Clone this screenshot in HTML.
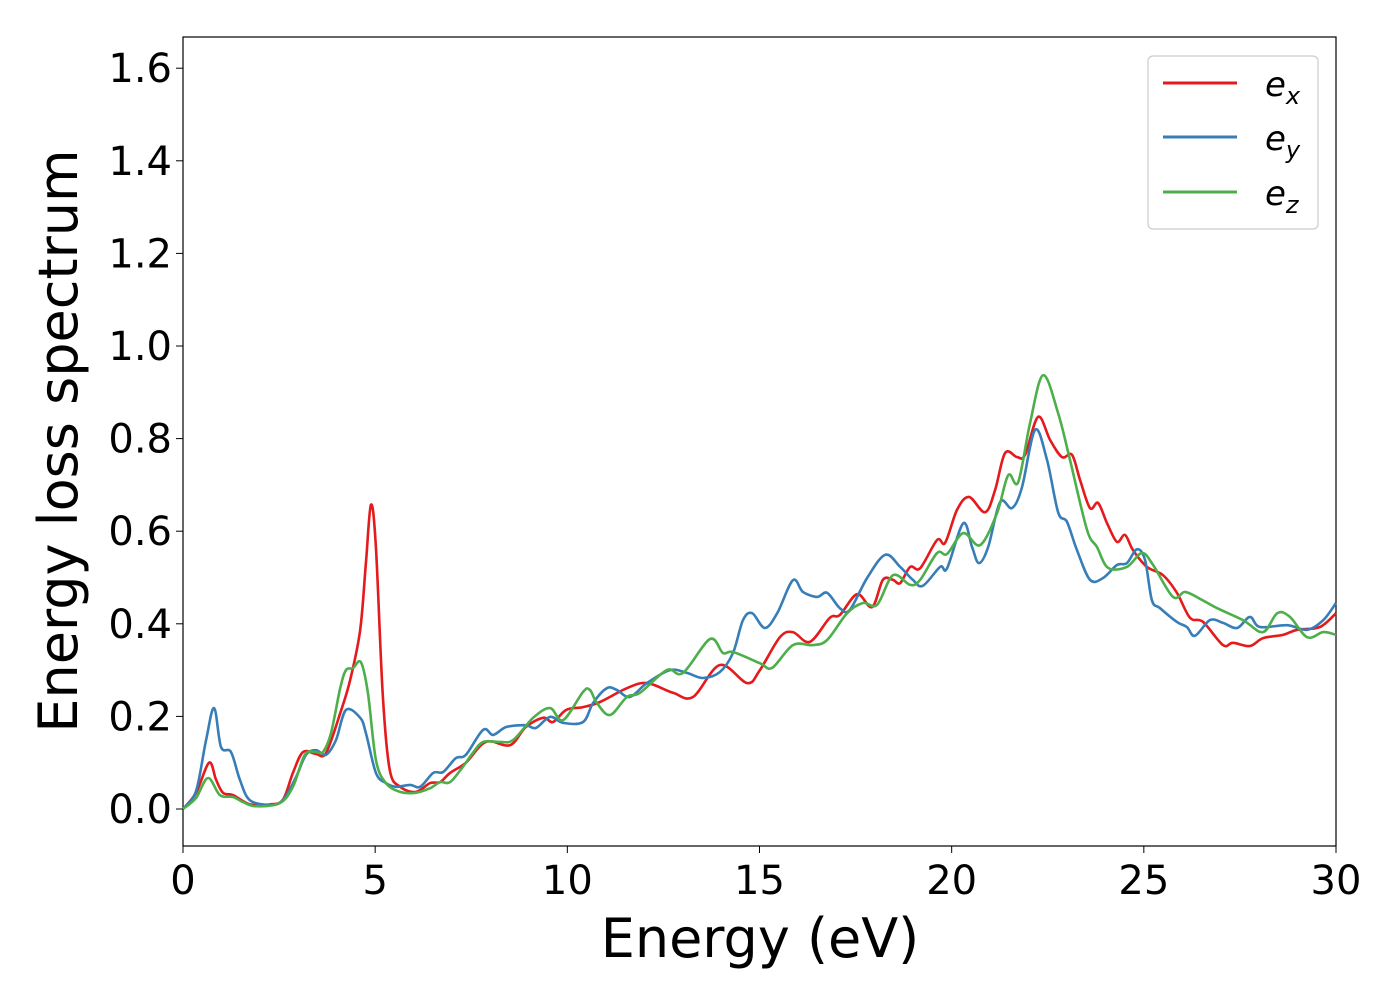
<!DOCTYPE html>
<html><head><meta charset="utf-8"><style>
body{margin:0;background:#fff;}
svg{display:block;font-family:"DejaVu Sans","Liberation Sans",sans-serif;}
</style></head><body>
<svg id="chart" width="1400" height="1000">
<rect x="183" y="37" width="1153" height="809" fill="#fff" stroke="#000" stroke-width="1.2"/>
<g id="ticks"></g>
<g id="series"></g>
<text x="760" y="957" font-size="54" text-anchor="middle">Energy (eV)</text>
<text transform="translate(77,441) rotate(-90)" font-size="54" text-anchor="middle">Energy loss spectrum</text>
<g>
<rect x="1148" y="56" width="170" height="173" rx="5" fill="#fff" stroke="#ccc" stroke-width="1.2"/>
<line x1="1163" y1="83" x2="1237" y2="83" stroke="#e41a1c" stroke-width="3"/>
<line x1="1163" y1="137" x2="1237" y2="137" stroke="#377eb8" stroke-width="3"/>
<line x1="1163" y1="192" x2="1237" y2="192" stroke="#4daf4a" stroke-width="3"/>
<text x="1265" y="96" font-size="34" font-style="italic">e<tspan font-size="24" dy="8">x</tspan></text>
<text x="1265" y="150" font-size="34" font-style="italic">e<tspan font-size="24" dy="8">y</tspan></text>
<text x="1265" y="205" font-size="34" font-style="italic">e<tspan font-size="24" dy="8">z</tspan></text>
</g>
</svg>
<script>
const xTicks=[0,5,10,15,20,25,30];
const yTicks=[0.0,0.2,0.4,0.6,0.8,1.0,1.2,1.4,1.6];
const exE=[0,0.34,0.68,0.86,1.04,1.30,1.74,2.26,2.60,2.86,3.12,3.46,3.72,4.09,4.35,4.61,4.76,4.89,5.02,5.20,5.38,5.65,6.06,6.43,6.69,6.95,7.36,7.88,8.51,8.92,9.37,9.63,9.97,10.41,10.85,11.55,12.07,12.75,13.27,13.97,14.68,15.01,15.53,15.87,16.31,16.83,17.09,17.54,17.93,18.21,18.47,18.66,18.92,19.18,19.62,19.83,20.14,20.45,20.87,21.13,21.39,21.70,21.91,22.25,22.56,22.87,23.13,23.34,23.60,23.81,24.04,24.30,24.51,24.72,25.08,25.50,25.86,26.20,26.54,27.06,27.32,27.76,28.10,28.62,28.99,29.58,30.00];
const exV=[0,0.035,0.10,0.063,0.035,0.03,0.01,0.01,0.02,0.078,0.123,0.119,0.121,0.207,0.279,0.387,0.531,0.657,0.566,0.242,0.084,0.048,0.037,0.056,0.058,0.078,0.10,0.145,0.138,0.177,0.197,0.188,0.214,0.22,0.231,0.261,0.272,0.251,0.242,0.311,0.272,0.30,0.371,0.382,0.361,0.413,0.419,0.464,0.436,0.495,0.495,0.488,0.523,0.52,0.581,0.575,0.646,0.674,0.641,0.689,0.769,0.76,0.765,0.847,0.797,0.76,0.765,0.711,0.65,0.661,0.618,0.577,0.592,0.559,0.523,0.505,0.467,0.413,0.404,0.354,0.359,0.352,0.369,0.376,0.387,0.393,0.423];
const eyE=[0,0.34,0.60,0.81,0.99,1.25,1.48,1.74,2.26,2.60,2.94,3.20,3.46,3.72,3.98,4.24,4.61,4.76,5.02,5.28,5.54,5.91,6.17,6.51,6.77,7.10,7.36,7.81,8.07,8.41,8.92,9.18,9.55,9.89,10.41,10.67,11.03,11.29,11.63,12.07,12.67,13.11,13.53,13.97,14.31,14.57,14.81,15.14,15.46,15.87,16.13,16.50,16.76,17.09,17.35,17.80,18.27,18.66,18.99,19.25,19.70,19.88,20.30,20.53,20.71,20.95,21.26,21.57,21.83,22.17,22.48,22.77,23.00,23.26,23.60,23.94,24.30,24.56,24.82,25.03,25.21,25.42,25.86,26.12,26.33,26.72,27.06,27.43,27.76,28.02,28.73,29.25,29.67,30.00];
const eyV=[0,0.039,0.149,0.218,0.134,0.123,0.063,0.019,0.009,0.019,0.069,0.117,0.127,0.117,0.149,0.214,0.197,0.164,0.078,0.056,0.048,0.052,0.048,0.078,0.080,0.110,0.117,0.171,0.160,0.177,0.181,0.175,0.199,0.186,0.188,0.229,0.261,0.257,0.242,0.272,0.30,0.294,0.283,0.296,0.337,0.408,0.423,0.391,0.423,0.494,0.469,0.458,0.467,0.434,0.430,0.499,0.549,0.523,0.495,0.482,0.523,0.520,0.617,0.566,0.531,0.566,0.663,0.650,0.695,0.819,0.754,0.641,0.620,0.559,0.495,0.499,0.527,0.531,0.561,0.538,0.451,0.434,0.404,0.393,0.374,0.408,0.402,0.391,0.415,0.393,0.397,0.387,0.408,0.445];
const ezE=[0,0.34,0.65,0.96,1.30,1.56,1.90,2.52,2.86,3.17,3.46,3.64,3.85,4.09,4.24,4.42,4.63,4.81,5.02,5.28,5.65,6.06,6.43,6.69,6.95,7.28,7.54,7.81,8.25,8.59,9.11,9.55,9.89,10.41,10.59,10.77,11.11,11.55,11.89,12.59,13.01,13.71,14.05,14.31,15.01,15.33,15.87,16.39,16.76,17.28,17.69,18.06,18.47,18.92,19.18,19.62,19.88,20.30,20.74,21.18,21.47,21.73,22.04,22.38,22.77,23.08,23.52,23.78,24.07,24.56,24.95,25.24,25.76,26.07,26.46,26.90,27.58,28.10,28.47,28.80,29.25,29.67,30.00];
const ezV=[0,0.024,0.067,0.030,0.026,0.015,0.006,0.013,0.048,0.117,0.123,0.123,0.164,0.261,0.300,0.304,0.317,0.251,0.106,0.056,0.037,0.035,0.045,0.058,0.058,0.091,0.121,0.145,0.145,0.149,0.197,0.218,0.192,0.253,0.257,0.229,0.203,0.242,0.251,0.30,0.294,0.367,0.337,0.339,0.315,0.305,0.354,0.354,0.365,0.423,0.445,0.441,0.505,0.484,0.495,0.553,0.551,0.596,0.570,0.639,0.721,0.706,0.834,0.937,0.855,0.754,0.603,0.566,0.521,0.523,0.553,0.527,0.458,0.469,0.454,0.434,0.408,0.382,0.423,0.415,0.371,0.382,0.376];
const X0=183,X1=1336,Y0=809,PPU=463;
function sx(e){return X0+(X1-X0)*e/30;}
function sy(v){return Y0-PPU*v;}
const NS='http://www.w3.org/2000/svg';
const tg=document.getElementById('ticks');
xTicks.forEach(t=>{
 const l=document.createElementNS(NS,'line');
 l.setAttribute('x1',sx(t));l.setAttribute('x2',sx(t));l.setAttribute('y1',846);l.setAttribute('y2',853);l.setAttribute('stroke','#000');
 
 
 tg.appendChild(l);
 const tx=document.createElementNS(NS,'text');
 tx.setAttribute('x',sx(t));tx.setAttribute('y',894);tx.setAttribute('font-size','40');tx.setAttribute('text-anchor','middle');
 tx.textContent=t;
 
 
 tg.appendChild(tx);
});
yTicks.forEach(t=>{
 const l=document.createElementNS(NS,'line');
 l.setAttribute('x1',176);l.setAttribute('x2',183);l.setAttribute('y1',sy(t));l.setAttribute('y2',sy(t));l.setAttribute('stroke','#000');
 
 
 tg.appendChild(l);
 const tx=document.createElementNS(NS,'text');
 tx.setAttribute('x',172);tx.setAttribute('y',sy(t)+14);tx.setAttribute('font-size','40');tx.setAttribute('text-anchor','end');
 tx.textContent=t.toFixed(1);
 
 
 tg.appendChild(tx);
});
function pathFor(E,V){
 const p=E.map((e,i)=>[sx(e),sy(V[i])]);
 let d='M'+p[0][0]+','+p[0][1];
 for(let i=0;i<p.length-1;i++){
  const a=p[Math.max(0,i-1)],b=p[i],c=p[i+1],n=p[Math.min(p.length-1,i+2)];
  const c1=[b[0]+(c[0]-a[0])/6,b[1]+(c[1]-a[1])/6];
  const c2=[c[0]-(n[0]-b[0])/6,c[1]-(n[1]-b[1])/6];
  d+=' C'+c1[0].toFixed(1)+','+c1[1].toFixed(1)+' '+c2[0].toFixed(1)+','+c2[1].toFixed(1)+' '+c[0].toFixed(1)+','+c[1].toFixed(1);
 }
 return d;
}
const sg=document.getElementById('series');
[[exE,exV,'#e41a1c','series-ex'],[eyE,eyV,'#377eb8','series-ey'],[ezE,ezV,'#4daf4a','series-ez']].forEach(s=>{
 const pa=document.createElementNS(NS,'path');
 pa.setAttribute('d',pathFor(s[0],s[1]));pa.setAttribute('fill','none');pa.setAttribute('stroke',s[2]);pa.setAttribute('stroke-width','2.6');pa.setAttribute('stroke-linejoin','round');
 
 
 sg.appendChild(pa);
});
</script>
</body></html>
